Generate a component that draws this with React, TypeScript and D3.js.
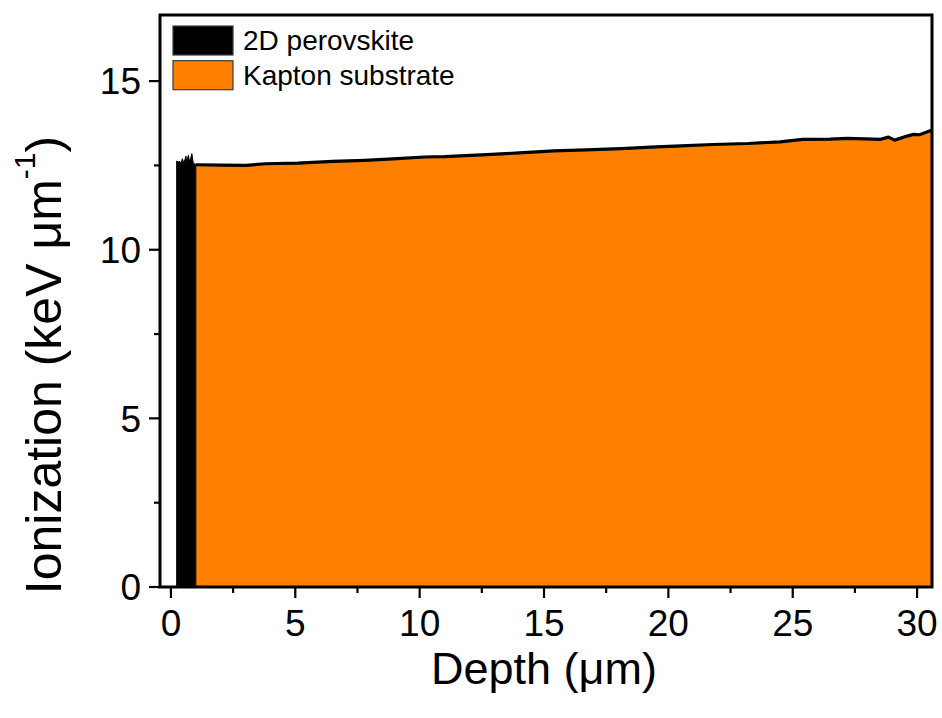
import React, { useEffect, useRef } from 'react';
import * as d3 from 'd3';

// 2D perovskite layer (spiky, thin)
const perovskiteDepth = [0.23, 0.29, 0.36, 0.4, 0.46, 0.51, 0.56, 0.6, 0.64, 0.7, 0.75, 0.8, 0.84, 0.9, 0.97, 1.0];
const perovskiteIon = [12.63, 12.6, 12.62, 12.55, 12.7, 12.58, 12.66, 12.78, 12.6, 12.8, 12.62, 12.72, 12.85, 12.56, 12.54, 12.53];

// Kapton substrate
const kaptonDepth = [1.0, 2.0, 3.0, 3.8, 5.1, 6.5, 7.8, 9.1, 10.2, 11.0, 12.7, 14.0, 15.4, 16.7, 18.1, 19.3, 20.5, 21.8, 23.2, 24.5, 25.4, 26.5, 27.2, 28.25, 28.5, 28.85, 29.1, 29.6, 29.86, 30.1, 30.5, 30.7];
const kaptonIon = [12.52, 12.51, 12.5, 12.55, 12.57, 12.62, 12.65, 12.7, 12.75, 12.76, 12.82, 12.87, 12.93, 12.96, 13.0, 13.04, 13.08, 13.12, 13.15, 13.2, 13.27, 13.28, 13.3, 13.28, 13.27, 13.34, 13.25, 13.37, 13.42, 13.41, 13.52, 13.57];

const xTicks = [0, 5, 10, 15, 20, 25, 30];
const xMinorTicks = [2.5, 7.5, 12.5, 17.5, 22.5, 27.5];
const yTicks = [0, 5, 10, 15];
const yMinorTicks = [2.5, 7.5, 12.5];

const legendItems = [
  { label: '2D perovskite', color: '#000000' },
  { label: 'Kapton substrate', color: '#FF8000' }
];

const FONT = '"Liberation Sans", Arial, Helvetica, sans-serif';

const App = () => {
  const svgRef = useRef<SVGSVGElement>(null);
  const width = 942;
  const height = 718;
  const margin = { top: 15, right: 10, bottom: 131, left: 160 };

  useEffect(() => {
    const svg = d3.select(svgRef.current);
    svg.selectAll('*').remove();

    const left = margin.left;
    const right = width - margin.right;
    const top = margin.top;
    const bottom = height - margin.bottom;

    const x = d3.scaleLinear().domain([-0.44, 30.6]).range([left, right]);
    const y = d3.scaleLinear().domain([0, 16.96]).range([bottom, top]);

    svg.append('defs').append('clipPath').attr('id', 'plot-clip')
      .append('rect')
      .attr('x', left).attr('y', top)
      .attr('width', right - left).attr('height', bottom - top);

    const plot = svg.append('g').attr('clip-path', 'url(#plot-clip)');

    // Kapton area
    const kData = kaptonDepth.map((d, i) => [d, kaptonIon[i]]);
    const area = d3.area<number[]>()
      .x(d => x(d[0]))
      .y0(y(0))
      .y1(d => y(d[1]));
    plot.append('path')
      .datum(kData)
      .attr('fill', '#FF8000')
      .attr('d', area);
    plot.append('path')
      .datum(kData)
      .attr('fill', 'none')
      .attr('stroke', '#000')
      .attr('stroke-width', 3.2)
      .attr('stroke-linejoin', 'round')
      .attr('d', d3.line<number[]>().x(d => x(d[0])).y(d => y(d[1])));

    // Perovskite area
    const pData = perovskiteDepth.map((d, i) => [d, perovskiteIon[i]]);
    plot.append('path')
      .datum(pData)
      .attr('fill', '#000')
      .attr('stroke', '#000')
      .attr('stroke-width', 1)
      .attr('d', area);

    // Frame
    svg.append('rect')
      .attr('x', left).attr('y', top)
      .attr('width', right - left).attr('height', bottom - top)
      .attr('fill', 'none')
      .attr('stroke', '#000')
      .attr('stroke-width', 3);

    // Ticks
    const ticks = svg.append('g').attr('stroke', '#000').attr('stroke-width', 2.2);
    xTicks.forEach(t => {
      ticks.append('line').attr('x1', x(t)).attr('x2', x(t)).attr('y1', bottom).attr('y2', bottom + 11);
    });
    xMinorTicks.forEach(t => {
      ticks.append('line').attr('x1', x(t)).attr('x2', x(t)).attr('y1', bottom).attr('y2', bottom + 6);
    });
    yTicks.forEach(t => {
      ticks.append('line').attr('x1', left - 11).attr('x2', left).attr('y1', y(t)).attr('y2', y(t));
    });
    yMinorTicks.forEach(t => {
      ticks.append('line').attr('x1', left - 6).attr('x2', left).attr('y1', y(t)).attr('y2', y(t));
    });

    // Tick labels
    svg.append('g').selectAll('text')
      .data(xTicks).enter().append('text')
      .attr('x', d => x(d))
      .attr('y', 636)
      .attr('text-anchor', 'middle')
      .style('font-family', FONT)
      .style('font-size', '37px')
      .text(d => d);

    svg.append('g').selectAll('text')
      .data(yTicks).enter().append('text')
      .attr('x', 141)
      .attr('y', d => y(d))
      .attr('dy', '0.36em')
      .attr('text-anchor', 'end')
      .style('font-family', FONT)
      .style('font-size', '37px')
      .text(d => d);

    // Axis titles
    svg.append('text')
      .attr('x', (x(0) + x(30)) / 2)
      .attr('y', 684)
      .attr('text-anchor', 'middle')
      .style('font-family', FONT)
      .style('font-size', '45px')
      .text('Depth (μm)');

    const yTitle = svg.append('text')
      .attr('transform', 'translate(61, 365) rotate(-90)')
      .attr('text-anchor', 'middle')
      .style('font-family', FONT)
      .style('font-size', '50px');
    yTitle.append('tspan').text('Ionization (keV μm');
    yTitle.append('tspan').attr('dy', -26).style('font-size', '30px').text('-1');
    yTitle.append('tspan').attr('dy', 26).text(')');

    // Legend
    const legend = svg.append('g');
    legendItems.forEach((item, i) => {
      const row = legend.append('g').attr('transform', `translate(0, ${i * 34.7})`);
      row.append('rect')
        .attr('x', 173).attr('y', 26)
        .attr('width', 60).attr('height', 29)
        .attr('fill', item.color)
        .attr('stroke', '#3a3a3a')
        .attr('stroke-width', 1.2);
      row.append('text')
        .attr('x', 243).attr('y', 50)
        .style('font-family', FONT)
        .style('font-size', '28px')
        .text(item.label);
    });
  }, []);

  return (
    <div className="ionization-chart">
      <svg ref={svgRef} width={width} height={height}
        style={{ position: 'absolute', left: 0, top: 0, background: '#fff' }} />
    </div>
  );
};

export default App;
